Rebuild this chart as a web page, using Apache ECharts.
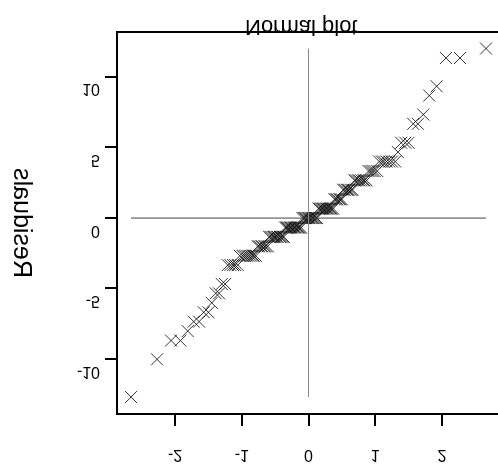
<!DOCTYPE html>
<html>
<head>
<meta charset="utf-8">
<script src="https://cdn.jsdelivr.net/npm/echarts@6/dist/echarts.min.js"></script>
<style>
  html, body { margin: 0; padding: 0; background: #fff; }
  /* the reference draws every glyph upside down, so the chart is laid out
     mirrored and the whole box is flipped back */
  #main { width: 498px; height: 473px; transform: scaleY(-1); }
</style>
</head>
<body>
<div id="main"></div>
<script>
var titleText = 'Normal plot'
var yName = 'Residuals'
var xTicks = [-2, -1, 0, 1, 2]
var yTicks = [-10, -5, 0, 5, 10]

// theoretical quantiles
var quantiles = [
  -2.66, -2.27, -2.06, -1.92, -1.81, -1.72, -1.64, -1.57, -1.50, -1.45,
  -1.39, -1.34, -1.30, -1.25, -1.21, -1.17, -1.13, -1.10, -1.06, -1.03,
  -0.99, -0.96, -0.93, -0.90, -0.87, -0.84, -0.82, -0.79, -0.76, -0.74,
  -0.71, -0.69, -0.66, -0.64, -0.61, -0.59, -0.57, -0.54, -0.52, -0.50,
  -0.48, -0.46, -0.43, -0.41, -0.39, -0.37, -0.35, -0.33, -0.31, -0.29,
  -0.27, -0.25, -0.23, -0.21, -0.19, -0.17, -0.15, -0.13, -0.11, -0.09,
  -0.07, -0.05, -0.03, -0.01,
  0.01, 0.03, 0.05, 0.07, 0.09, 0.11, 0.13, 0.15, 0.17, 0.19,
  0.21, 0.23, 0.25, 0.27, 0.29, 0.31, 0.33, 0.35, 0.37, 0.39,
  0.41, 0.43, 0.46, 0.48, 0.50, 0.52, 0.54, 0.57, 0.59, 0.61,
  0.64, 0.66, 0.69, 0.71, 0.74, 0.76, 0.79, 0.82, 0.84, 0.87,
  0.90, 0.93, 0.96, 0.99, 1.03, 1.06, 1.10, 1.13, 1.17, 1.21,
  1.25, 1.30, 1.34, 1.39, 1.45, 1.50, 1.57, 1.64, 1.72, 1.81,
  1.92, 2.06, 2.27, 2.66
]

// sorted residuals
var residuals = [
  -12.67, -10, -8.67, -8.67, -8, -7.33, -7.33, -6.67, -6.67, -6,
  -5.33, -5.33, -4.67, -4.67, -3.33, -3.33, -3.33, -3.33, -3.33, -2.67,
  -2.67, -2.67, -2.67, -2.67, -2.67, -2.67, -2.67, -2.67, -2, -2,
  -2, -2, -2, -2, -2, -1.33, -1.33, -1.33, -1.33, -1.33,
  -1.33, -1.33, -1.33, -1.33, -1.33, -1.33, -0.67, -0.67, -0.67, -0.67,
  -0.67, -0.67, -0.67, -0.67, -0.67, -0.67, -0.67, -0.67, -0.67, 0,
  0, 0, 0, 0, 0, 0, 0, 0, 0, 0,
  0, 0.67, 0.67, 0.67, 0.67, 0.67, 0.67, 0.67, 0.67, 0.67,
  0.67, 0.67, 0.67, 1.33, 1.33, 1.33, 1.33, 1.33, 1.33, 2,
  2, 2, 2, 2, 2, 2, 2.67, 2.67, 2.67, 2.67,
  2.67, 2.67, 2.67, 2.67, 3.33, 3.33, 3.33, 3.33, 3.33, 4,
  4, 4, 4, 4, 4, 4, 4.67, 5.33, 5.33, 5.33,
  6.67, 6.67, 7.33, 8.67, 9.33, 11.33, 11.33, 12
]

var chartDom = document.getElementById('main')
var myChart = echarts.init(chartDom)
var font = 'Liberation Sans'

var qMin = Math.min.apply(null, quantiles)
var qMax = Math.max.apply(null, quantiles)
var rMin = Math.min.apply(null, residuals)
var rMax = Math.max.apply(null, residuals)

var points = quantiles.map(function (q, i) {
  return [q, residuals[i]]
})

var option = {
  animation: false,
  title: {
    text: titleText,
    left: 245,
    top: 436,
    padding: 0,
    textStyle: { fontFamily: font, fontSize: 22, fontWeight: 'normal', color: '#000' }
  },
  // the right edge of the box runs past the window, as in the reference
  grid: {
    left: 117,
    top: 59,
    width: 383,
    bottom: 32,
    outerBoundsMode: 'none',
    show: true,
    borderColor: '#000',
    borderWidth: 2
  },
  xAxis: {
    type: 'value',
    position: 'top',
    min: -2.87,
    max: 2.87,
    axisLine: { show: false, onZero: false },
    axisTick: {
      show: true,
      length: 12,
      customValues: xTicks,
      lineStyle: { color: '#000', width: 2 }
    },
    axisLabel: {
      customValues: xTicks,
      margin: 32,
      fontFamily: font,
      fontSize: 16,
      color: '#000'
    },
    splitLine: { show: false }
  },
  yAxis: {
    type: 'value',
    inverse: true,
    min: -13.87,
    max: 13.17,
    name: yName,
    nameLocation: 'middle',
    nameRotate: -90,
    nameGap: 84,
    nameTextStyle: { fontFamily: font, fontSize: 25, color: '#000' },
    axisLine: { show: false, onZero: false },
    axisTick: {
      show: true,
      length: 12,
      customValues: yTicks,
      lineStyle: { color: '#000', width: 2 }
    },
    axisLabel: {
      customValues: yTicks,
      margin: 17,
      verticalAlign: 'bottom',
      lineHeight: 24,
      fontFamily: font,
      fontSize: 16,
      color: '#000'
    },
    splitLine: { show: false }
  },
  series: [
    {
      type: 'line',
      data: [[qMin, 0], [qMax, 0]],
      symbol: 'none',
      silent: true,
      lineStyle: { color: '#444', width: 1 }
    },
    {
      type: 'line',
      data: [[0, rMin], [0, rMax]],
      symbol: 'none',
      silent: true,
      lineStyle: { color: '#888', width: 1 }
    },
    {
      type: 'scatter',
      data: points,
      symbol: 'path://M0 0L10 10M10 0L0 10',
      symbolSize: 12,
      itemStyle: { color: 'none', borderColor: '#000', borderWidth: 1 }
    }
  ]
}

myChart.setOption(option)
window.addEventListener('resize', () => myChart.resize())
</script>
</body>
</html>
